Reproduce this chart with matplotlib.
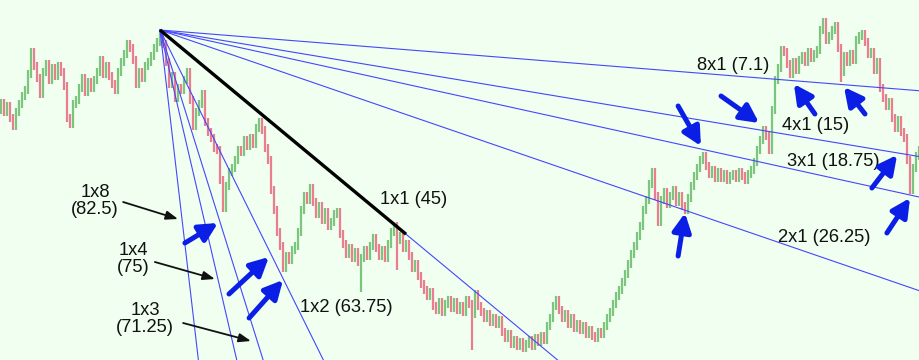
import matplotlib
matplotlib.use("Agg")
import matplotlib.pyplot as plt
import numpy as np

# closing price of each bar (arbitrary price units)
closes = [
    257, 248, 254, 242, 234, 248, 256, 264, 270, 286,
    308, 294, 282, 266, 288, 296, 280, 292, 284, 294,
    288, 274, 242, 236, 256, 260, 272, 282, 268, 278,
    272, 280, 288, 300, 286, 294, 284, 276, 270, 288,
    298, 306, 316, 312, 300, 276, 288, 282, 294, 298,
    304, 312, 318, 326, 316, 298, 276, 284, 262, 272,
    270, 280, 288, 260, 234, 248, 256, 266, 238, 228,
    222, 212, 210, 180, 152, 174, 188, 192, 200, 210,
    208, 220, 214, 222, 216, 232, 238, 230, 212, 200,
    170, 150, 128, 114, 92, 104, 100, 110, 114, 128,
    150, 164, 160, 172, 158, 146, 154, 140, 148, 134,
    138, 146, 148, 126, 116, 106, 112, 102, 108, 98,
    102, 110, 104, 114, 122, 112, 104, 110, 102, 116,
    128, 134, 120, 124, 112, 116, 104, 92, 96, 84,
    76, 70, 64, 68, 54, 50, 58, 48, 56, 60,
    52, 58, 50, 54, 48, 60, 56, 46, 66, 54,
    48, 42, 46, 38, 42, 36, 40, 28, 22, 26,
    16, 20, 14, 18, 12, 16, 20, 14, 22, 18,
    24, 20, 34, 42, 54, 60, 50, 42, 46, 36,
    42, 32, 36, 30, 34, 26, 30, 24, 22, 28,
    26, 34, 42, 48, 56, 64, 70, 78, 86, 96,
    106, 114, 124, 134, 150, 160, 176, 188, 164, 138,
    160, 168, 156, 164, 170, 158, 164, 154, 150, 162,
    174, 184, 192, 200, 204, 194, 186, 190, 182, 188,
    182, 186, 180, 184, 186, 182, 188, 184, 180, 186,
    190, 198, 210, 220, 230, 224, 210, 250, 280, 292,
    310, 308, 296, 286, 298, 290, 300, 304, 298, 308,
    302, 306, 310, 330, 338, 320, 324, 330, 334, 312,
    288, 304, 298, 306, 300, 320, 324, 326, 318, 306,
    308, 290, 298, 272, 262, 254, 258, 242, 232, 240,
    228, 222, 200, 170, 192, 204, 210,
]
first_open = 250
# bars with a long lower shadow: bar index -> low
long_lows = {120: 68, 132: 90, 157: 10, 280: 278}

# gann fan
fan_origin_bar = 53
fan_origin_price = 330
fan_names = ["8x1", "4x1", "3x1", "2x1", "1x1", "1x2", "1x3", "1x4", "1x8"]
fan_angles = ["7.1", "15", "18.75", "26.25", "45", "63.75", "71.25", "75", "82.5"]
fan_slopes = [-0.24, -0.50, -0.66, -1.03, -2.49, -6.06, -9.6, -12.9, -25.8]
black_end_bar = 135

# label positions (bar, price) for each fan line, in fan_names order
label_x = [232, 260.3, 262, 259, 126.3, 99.7, 48, 44, 31.3]
label_y = [295, 234, 198, 123, 161, 52, 41, 101, 159]

# blue arrows: (tail bar, tail price, head bar, head price)
blue_arrows = [
    (61.3, 117, 72.3, 137),
    (76, 66, 89.3, 103),
    (82.7, 42, 94, 80),
    (225.7, 104, 228, 147),
    (295.3, 127, 303, 162),
    (225.7, 254, 233.3, 214),
    (240, 264, 252.7, 237),
    (271.3, 246, 264.3, 276),
    (288, 246, 281, 273),
    (290.3, 172, 298.7, 205),
]
# black pointer arrows for the steep lines
black_arrows = [
    (40.7, 158, 59, 141),
    (51.3, 98, 71.3, 81),
    (60.7, 37, 83.3, 19),
]

plt.rcParams['font.family'] = ['Liberation Sans', 'DejaVu Sans']

closes = np.array(closes, dtype=float)
opens = np.concatenate([[first_open], closes[:-1]])
highs = np.maximum(opens, closes) + 4
lows = np.minimum(opens, closes) - 4
for k, v in long_lows.items():
    lows[k] = v
idx = np.arange(len(closes))
up = closes >= opens
cols = np.where(up, '#7cc57c', '#ea7d8e')

fig = plt.figure(figsize=(9.2, 3.6), dpi=100)
fig.patch.set_facecolor('#f0fff0')
ax = fig.add_axes([0, 0, 1, 1])
ax.set_facecolor('#f0fff0')

ax.vlines(idx, lows, highs, colors=cols, lw=1.6, zorder=2)

xs = np.array([fan_origin_bar, len(closes) + 5])
for name, ang, s in zip(fan_names, fan_angles, fan_slopes):
    ax.plot(xs, fan_origin_price + s * (xs - fan_origin_bar), color='#4646ff',
            lw=0.8, zorder=3)
# the 1x1 line is drawn heavy up to the touch point
s11 = fan_slopes[fan_names.index("1x1")]
bx = np.array([fan_origin_bar, black_end_bar])
ax.plot(bx, fan_origin_price + s11 * (bx - fan_origin_bar), color='black',
        lw=2.4, solid_capstyle='butt', zorder=4)

for i, name in enumerate(fan_names):
    if name in ("1x3", "1x4", "1x8"):
        ax.text(label_x[i], label_y[i], name + "\n(" + fan_angles[i] + ")",
                ha='center', va='center', fontsize=13.2, linespacing=1.0,
                color='#111111', zorder=6)
    else:
        ax.text(label_x[i], label_y[i], name + " (" + fan_angles[i] + ")",
                ha='left', va='center', fontsize=13.2, color='#111111', zorder=6)

for x0, y0, x1, y1 in blue_arrows:
    ax.annotate("", xy=(x1, y1), xytext=(x0, y0),
                arrowprops=dict(arrowstyle="-|>,head_length=0.55,head_width=0.28",
                                color='#0a1ee6', lw=3.6, mutation_scale=20,
                                shrinkA=0, shrinkB=0), zorder=7)
for x0, y0, x1, y1 in black_arrows:
    ax.annotate("", xy=(x1, y1), xytext=(x0, y0),
                arrowprops=dict(arrowstyle="-|>,head_length=0.6,head_width=0.22",
                                color='#111111', lw=1.3, mutation_scale=12,
                                shrinkA=0, shrinkB=0), zorder=7)

ax.set_xlim(-1 / 3, 306.33)
ax.set_ylim(0, 360)
ax.axis('off')

fig.savefig("out.png", dpi=100, facecolor=fig.get_facecolor())
